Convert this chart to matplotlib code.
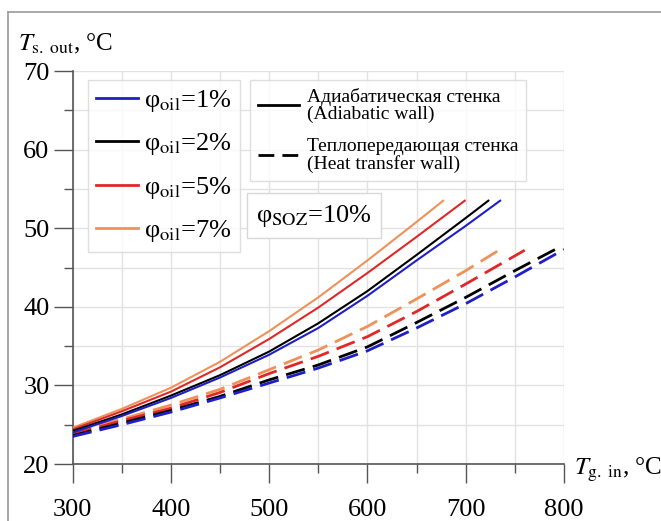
import matplotlib
matplotlib.use("Agg")
import matplotlib.pyplot as plt
from matplotlib.lines import Line2D
from matplotlib.ticker import MultipleLocator

plt.rcParams["font.family"] = ["Liberation Serif", "DejaVu Serif"]
plt.rcParams["mathtext.fontset"] = "stix"

# Адиабатическая стенка (сплошные линии)
x_ad_1 = [300, 350, 400, 450, 500, 550, 600, 650, 700, 735]
ad_1 = [24.0, 26.1, 28.4, 31.0, 33.9, 37.3, 41.4, 45.9, 50.3, 53.5]
x_ad_2 = [300, 350, 400, 450, 500, 550, 600, 650, 700, 723]
ad_2 = [24.2, 26.3, 28.7, 31.3, 34.3, 37.9, 42.0, 46.6, 51.3, 53.5]
x_ad_5 = [300, 350, 400, 450, 500, 550, 600, 650, 699]
ad_5 = [24.4, 26.7, 29.2, 32.3, 35.9, 39.9, 44.3, 48.9, 53.5]
x_ad_7 = [300, 350, 400, 450, 500, 550, 600, 650, 677]
ad_7 = [24.6, 27.0, 29.7, 33.0, 36.9, 41.2, 45.9, 50.8, 53.5]

# Теплопередающая стенка (штриховые линии)
x_ht_1 = [300, 350, 400, 450, 500, 550, 600, 650, 700, 750, 800]
ht_1 = [23.5, 25.0, 26.6, 28.4, 30.3, 32.2, 34.4, 37.3, 40.4, 43.8, 47.3]
x_ht_2 = [300, 350, 400, 450, 500, 550, 600, 650, 700, 750, 791]
ht_2 = [23.6, 25.2, 26.8, 28.6, 30.7, 32.6, 34.9, 38.0, 41.2, 44.6, 47.3]
x_ht_5 = [300, 350, 400, 450, 500, 550, 600, 650, 700, 760]
ht_5 = [23.8, 25.5, 27.1, 29.1, 31.5, 33.7, 36.2, 39.4, 42.9, 47.2]
x_ht_7 = [300, 350, 400, 450, 500, 550, 600, 650, 700, 735]
ht_7 = [24.1, 25.7, 27.5, 29.5, 32.0, 34.5, 37.5, 41.0, 44.6, 47.3]

oil_labels = ["1%", "2%", "5%", "7%"]
colors = ["#1f1fc8", "#000000", "#e02828", "#f0915a"]

fig = plt.figure(figsize=(6.61, 5.21), dpi=100)
ax = fig.add_axes([0.1097, 0.1094, 0.7436, 0.7543])

solid = [(x_ad_1, ad_1), (x_ad_2, ad_2), (x_ad_5, ad_5), (x_ad_7, ad_7)]
dashed = [(x_ht_1, ht_1), (x_ht_2, ht_2), (x_ht_5, ht_5), (x_ht_7, ht_7)]

# порядок рисования: оранжевые снизу, синие сверху
for i in [3, 2, 1, 0]:
    ax.plot(solid[i][0], solid[i][1], color=colors[i], lw=1.5, zorder=3)
    ax.plot(dashed[i][0], dashed[i][1], color=colors[i], lw=2.0,
            dashes=(7, 3), zorder=3)

ax.set_xlim(300, 800)
ax.set_ylim(20, 70)
ax.xaxis.set_major_locator(MultipleLocator(100))
ax.xaxis.set_minor_locator(MultipleLocator(50))
ax.yaxis.set_major_locator(MultipleLocator(10))
ax.yaxis.set_minor_locator(MultipleLocator(5))
ax.grid(True, which="both", color="#e2e2e2", lw=1.0, zorder=0)
ax.set_axisbelow(True)

for s in ["top", "right"]:
    ax.spines[s].set_visible(False)
for s in ["left", "bottom"]:
    ax.spines[s].set_color("#555555")
    ax.spines[s].set_linewidth(1.2)
ax.tick_params(which="major", direction="out", length=13.5, width=1.0,
               color="#555555", labelsize=19, pad=3)
ax.tick_params(which="minor", direction="out", length=6.5, width=1.0,
               color="#555555")
ax.tick_params(axis="x", which="major", pad=12)

# легенда 1
h1 = [Line2D([], [], color=c, lw=2) for c in colors]
l1 = ["φ$_{\\mathrm{oil}}$=" + t for t in oil_labels]
leg1 = ax.legend(h1, l1, loc="upper left", bbox_to_anchor=(0.031, 0.977),
                 fontsize=19, frameon=True, fancybox=False,
                 edgecolor="#d8d8d8", handlelength=1.6, handletextpad=0.25,
                 labelspacing=0.66, borderpad=0.3, borderaxespad=0)
leg1.get_frame().set_linewidth(1.0)
ax.add_artist(leg1)

# легенда 2
h2 = [Line2D([], [], color="black", lw=2),
      Line2D([], [], color="black", lw=2, dashes=(5.7, 2.9))]
l2 = ["Адиабатическая стенка\n(Adiabatic wall)",
      "Теплопередающая стенка\n(Heat transfer wall)"]
leg2 = ax.legend(h2, l2, loc="upper left", bbox_to_anchor=(0.361, 0.977),
                 fontsize=14, frameon=True, fancybox=False,
                 edgecolor="#d8d8d8", handlelength=2.1, handletextpad=0.4,
                 labelspacing=0.8, borderpad=0.42, borderaxespad=0)
leg2.get_frame().set_linewidth(1.0)
for t in leg2.get_texts():
    t.set_linespacing(0.95)

ax.text(0.491, 0.632, "φ$_{\\mathrm{SOZ}}$=10%", transform=ax.transAxes,
        fontsize=19, ha="center", va="center", zorder=5,
        bbox=dict(boxstyle="square,pad=0.35", fc="white", ec="#d8d8d8", lw=1.0))

# подписи осей
fig.text(0.027, 0.916, "$T_{\\mathrm{s.\\ out}}$, °C", fontsize=18,
         ha="left", va="center")
fig.text(0.868, 0.098, "$T_{\\mathrm{g.\\ in}}$, °C", fontsize=18,
         ha="left", va="center")

# рамка скриншота
fig.add_artist(Line2D([0.012, 1.0], [0.977, 0.977], transform=fig.transFigure,
                      color="#999999", lw=1.2))
fig.add_artist(Line2D([0.012, 0.012], [0.0, 0.977], transform=fig.transFigure,
                      color="#999999", lw=1.2))

plt.savefig("out.png", dpi=100)
plt.close()
